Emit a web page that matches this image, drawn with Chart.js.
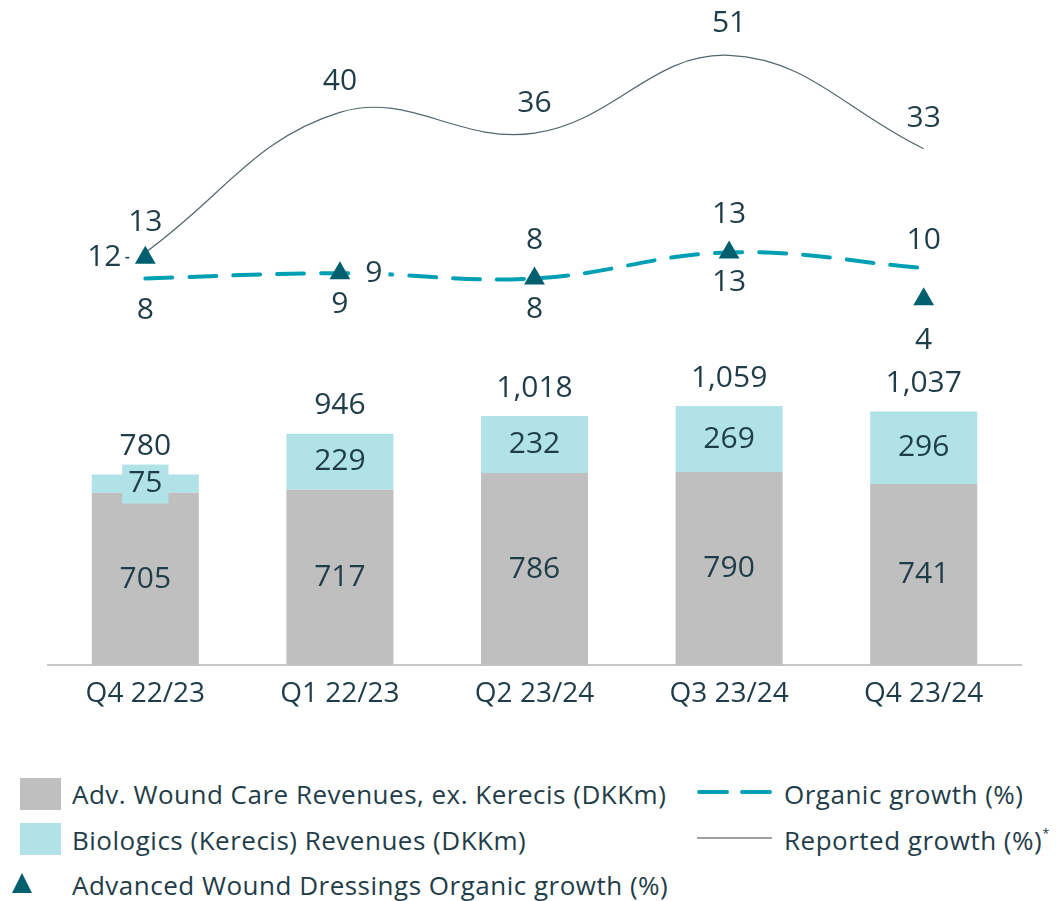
<!DOCTYPE html>
<html>
<head>
<meta charset="utf-8">
<script src="https://cdn.jsdelivr.net/npm/chart.js@4.4.0/dist/chart.umd.min.js"></script>
<style>
  body { margin: 0; background: #fff; font-family: 'Open Sans', sans-serif; color: #1F3D49; }
  #wrap { position: relative; width: 1056px; height: 723px; }
  .leg { position: absolute; font-size: 26px; line-height: 30px; letter-spacing: 0.5px; white-space: nowrap; }
  .sw { position: absolute; }
  .star { position: relative; top: -12px; font-size: 13px; }
</style>
</head>
<body>
<div id="wrap"><canvas id="myChart" width="1056" height="723"></canvas></div>

<!-- Legend -->
<div class="sw" style="left:20px;top:778px;width:41px;height:32px;background:#BFBFBF"></div>
<div class="leg" style="left:72px;top:779px">Adv. Wound Care Revenues, ex. Kerecis (DKKm)</div>
<div class="sw" style="left:20px;top:823px;width:41px;height:32px;background:#B1E2E8"></div>
<div class="leg" style="left:72px;top:825px">Biologics (Kerecis) Revenues (DKKm)</div>
<div class="sw" style="left:12px;top:873px;width:0;height:0;border-left:10px solid transparent;border-right:10px solid transparent;border-bottom:20px solid #005F6E"></div>
<div class="leg" style="left:72px;top:870px">Advanced Wound Dressings Organic growth (%)</div>
<div class="sw" style="left:697px;top:790px;width:32px;height:4px;border-radius:2px;background:#00A0B4"></div>
<div class="sw" style="left:740px;top:790px;width:32px;height:4px;border-radius:2px;background:#00A0B4"></div>
<div class="leg" style="left:784px;top:779px">Organic growth (%)</div>
<div class="sw" style="left:697px;top:837px;width:75px;height:2px;background:#A0A0A0"></div>
<div class="leg" style="left:784px;top:825px">Reported growth (%)<span class="star">*</span></div>

<script>
// Data

const quarters = ['Q4 22/23', 'Q1 22/23', 'Q2 23/24', 'Q3 23/24', 'Q4 23/24']
const woundCare = [705, 717, 786, 790, 741]
const biologics = [75, 229, 232, 269, 296]
const organicGrowth = [8, 9, 8, 13, 10]
const reportedGrowth = [13, 40, 36, 51, 33]
const dressingsGrowth = [12, 9, 8, 13, 4]

// Label placement (px offsets from the point)

const textColor = '#1F3D49'
const reportedOffsets = [[0, -30], [0, -31], [0, -30], [0, -32], [0, -30]]
const organicOffsets = [[0, 32], [0, 31], [0, -38], [0, 30], [0, -28]]
const dressingsOffsets = [[-41, 0], [34, 0], [0, 31], [0, -38], [0, 41]]

const labelPlugin = {
    id: 'valueLabels',
    afterDatasetsDraw(chart) {
        const ctx = chart.ctx
        ctx.save()
        ctx.font = '30px "Open Sans"'
        ctx.textAlign = 'center'
        ctx.textBaseline = 'middle'
        chart.data.datasets.forEach((ds, di) => {
            const meta = chart.getDatasetMeta(di)
            meta.data.forEach((el, i) => {
                const text = ds.data[i].toLocaleString('en-US')
                let x = el.x, y = el.y
                if (ds.type === 'bar') {
                    y = (el.y + el.base) / 2
                } else {
                    x += ds.labelOffsets[i][0]
                    y += ds.labelOffsets[i][1]
                }
                const bg = ds.labelBg ? ds.labelBg[i] : null
                if (bg) {
                    const w = ctx.measureText(text).width + 12
                    ctx.fillStyle = bg
                    ctx.fillRect(x - w / 2, y - 19, w, 39)
                }
                if (ds.leader && ds.leader[i]) {
                    ctx.strokeStyle = textColor
                    ctx.lineWidth = 1.5
                    ctx.beginPath()
                    ctx.moveTo(x + 21, y)
                    ctx.lineTo(x + 25, y)
                    ctx.stroke()
                }
                ctx.fillStyle = textColor
                ctx.fillText(text, x, y)
            })
        })
        // totals above the stacked bars
        const top = chart.getDatasetMeta(1)
        top.data.forEach((el, i) => {
            const total = woundCare[i] + biologics[i]
            ctx.fillStyle = textColor
            ctx.fillText(total.toLocaleString('en-US'), el.x, el.y - 28)
        })
        ctx.restore()
    }
}

var ctx = document.getElementById('myChart').getContext('2d')

var data = {
    labels: quarters,
    datasets: [
        {
            type: 'bar', label: 'Adv. Wound Care Revenues, ex. Kerecis (DKKm)',
            data: woundCare, backgroundColor: '#BFBFBF', stack: 's', yAxisID: 'y', order: 3,
        },
        {
            type: 'bar', label: 'Biologics (Kerecis) Revenues (DKKm)',
            data: biologics, backgroundColor: '#B1E2E8', stack: 's', yAxisID: 'y', order: 4,
            labelBg: ['#B1E2E8', null, null, null, null],
        },
        {
            type: 'line', label: 'Reported growth (%)',
            data: reportedGrowth, borderColor: '#55666C', borderWidth: 1.2, tension: 0.4,
            pointRadius: 0, yAxisID: 'y2', order: 2, labelOffsets: reportedOffsets,
        },
        {
            type: 'line', label: 'Organic growth (%)',
            data: organicGrowth, borderColor: '#00A0B4', borderWidth: 4, tension: 0.4,
            borderDash: [27, 17], borderCapStyle: 'round',
            pointRadius: 0, yAxisID: 'y2', order: 1, labelOffsets: organicOffsets,
        },
        {
            type: 'line', label: 'Advanced Wound Dressings Organic growth (%)',
            data: dressingsGrowth, showLine: false, pointStyle: 'triangle', pointRadius: 12,
            backgroundColor: '#005F6E', borderColor: '#005F6E', borderWidth: 0,
            yAxisID: 'y2', order: 0, labelOffsets: dressingsOffsets,
            labelBg: [null, '#FFFFFF', null, null, null],
            leader: [true, false, false, false, false],
        },
    ]
}

var options = {
    responsive: false,
    animation: false,
    layout: { padding: { left: 48, right: 35, top: 0, bottom: 0 } },
    plugins: {
        legend: { display: false },
        tooltip: { enabled: false },
    },
    datasets: { bar: { barPercentage: 0.55, categoryPercentage: 1 } },
    scales: {
        x: {
            stacked: true,
            grid: { display: false, drawTicks: false },
            border: { color: '#C8C8C8', width: 2 },
            ticks: { color: textColor, font: { family: 'Open Sans', size: 28 }, padding: 12 },
        },
        y: { display: false, stacked: true, min: 0, max: 2668 },
        y2: { display: false, min: -66.6, max: 59.35 },
    }
}

var myChart = new Chart(ctx, {
    type: 'bar',
    data: data,
    options: options,
    plugins: [labelPlugin],
})
</script>
</body>
</html>
